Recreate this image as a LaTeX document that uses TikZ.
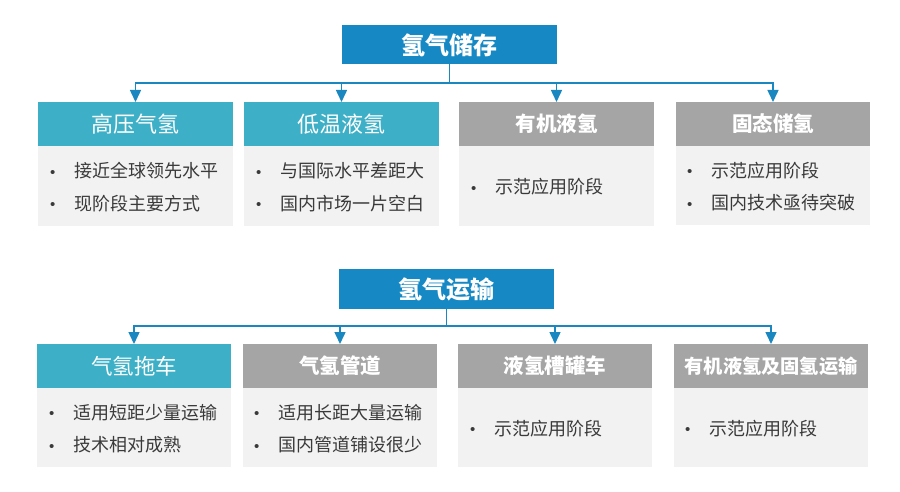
\documentclass[tikz,border=0pt]{standalone}
\usepackage{fontspec}
\setmainfont{Noto Sans CJK SC}
\newfontfamily\bulfont{Liberation Sans}
\usetikzlibrary{arrows.meta,calc}
\definecolor{titleblue}{HTML}{1689C5}
\definecolor{tealhead}{HTML}{3DB0C7}
\definecolor{grayhead}{HTML}{A5A5A5}
\definecolor{bodygray}{HTML}{F2F2F2}
\definecolor{bodytext}{HTML}{3A3A3A}
\definecolor{linkblue}{HTML}{1A87C0}
\tikzset{
  titlebox/.style={fill=titleblue,text=white,minimum width=215pt,minimum height=39pt,inner sep=0pt,outer sep=0pt,font=\bfseries\fontsize{24}{28}\selectfont},
  headteal/.style={fill=tealhead,text=white,anchor=north west,minimum width=195pt,minimum height=44pt,inner sep=0pt,outer sep=0pt,font=\fontsize{22}{26}\selectfont},
  headgray/.style={fill=grayhead,text=white,anchor=north west,minimum width=195pt,minimum height=44pt,inner sep=0pt,outer sep=0pt,font=\bfseries\fontsize{20.5}{24}\selectfont},
  bodybox/.style={fill=bodygray,anchor=north west,minimum width=195pt,inner sep=0pt,outer sep=0pt},
  bodytxt/.style={anchor=west,inner sep=0pt,text=bodytext,align=left,font=\fontsize{18}{32.5}\selectfont},
  link/.style={draw=linkblue,line width=1.5pt},
  arr/.style={link,-{Triangle[width=11pt,length=12pt]}}
}
\newcommand{\bul}{\makebox[24pt][l]{\bulfont\fontsize{15}{15}\selectfont\raisebox{0.5pt}{•}}}
\begin{document}
\begin{tikzpicture}[x=1pt,y=-1pt]
\useasboundingbox (0,0) rectangle (900,492);
% ---------- storage ----------
\node[titlebox] (t1) at (449.5,45) {氢气储存};
\node[headteal] (a1) at (38,102) {高压气氢};
\node[headteal] (a2) at (244,102) {低温液氢};
\node[headgray] (a3) at (459,102) {有机液氢};
\node[headgray,minimum width=194pt] (a4) at (676,102) {固态储氢};
\node[bodybox,minimum height=80pt] (b1) at (a1.south west) {};
\node[bodybox,minimum height=80pt] (b2) at (a2.south west) {};
\node[bodybox,minimum height=80pt] (b3) at (a3.south west) {};
\node[bodybox,minimum height=79pt,minimum width=194pt] (b4) at (a4.south west) {};
\node[bodytxt] (x1) at ($(b1.west)+(12,1)$) {\bul 接近全球领先水平\\\bul 现阶段主要方式};
\node[bodytxt] (x2) at ($(b2.west)+(12,1)$) {\bul 与国际水平差距大\\\bul 国内市场一片空白};
\node[bodytxt] (x3) at ($(b3.west)+(12,1)$) {\bul 示范应用阶段};
\node[bodytxt] (x4) at ($(b4.west)+(11,1)$) {\bul 示范应用阶段\\\bul 国内技术亟待突破};
\coordinate (j1) at (449.5,83);
\draw[arr] (t1.south) -- (j1) -| (a1.north);
\draw[arr] (t1.south) -- (j1) -| (a2.north);
\draw[arr] (t1.south) -- (j1) -| (a3.north);
\draw[arr] (t1.south) -- (j1) -| (a4.north);
% ---------- transport ----------
\node[titlebox,minimum height=40pt] (t2) at (446.5,289) {氢气运输};
\node[headteal,minimum width=194pt,font=\fontsize{21.5}{26}\selectfont] (c1) at (37,344) {气氢拖车};
\node[headgray,minimum width=194pt] (c2) at (243,344) {气氢管道};
\node[headgray,minimum width=194pt] (c3) at (458,344) {液氢槽罐车};
\node[headgray,minimum width=194pt,font=\bfseries\fontsize{19.2}{22}\selectfont] (c4) at (674,344) {有机液氢及固氢运输};
\node[bodybox,minimum height=79pt,minimum width=194pt] (d1) at (c1.south west) {};
\node[bodybox,minimum height=79pt,minimum width=194pt] (d2) at (c2.south west) {};
\node[bodybox,minimum height=79pt,minimum width=194pt] (d3) at (c3.south west) {};
\node[bodybox,minimum height=79pt,minimum width=194pt] (d4) at (c4.south west) {};
\node[bodytxt] (y1) at ($(d1.west)+(12,1)$) {\bul 适用短距少量运输\\\bul 技术相对成熟};
\node[bodytxt] (y2) at ($(d2.west)+(11,1)$) {\bul 适用长距大量运输\\\bul 国内管道铺设很少};
\node[bodytxt] (y3) at ($(d3.west)+(12,1)$) {\bul 示范应用阶段};
\node[bodytxt] (y4) at ($(d4.west)+(11,1)$) {\bul 示范应用阶段};
\coordinate (j2) at (446.5,326);
\draw[arr] (t2.south) -- (j2) -| (c1.north);
\draw[arr] (t2.south) -- (j2) -| (c2.north);
\draw[arr] (t2.south) -- (j2) -| (c3.north);
\draw[arr] (t2.south) -- (j2) -| (c4.north);
\end{tikzpicture}
\end{document}
